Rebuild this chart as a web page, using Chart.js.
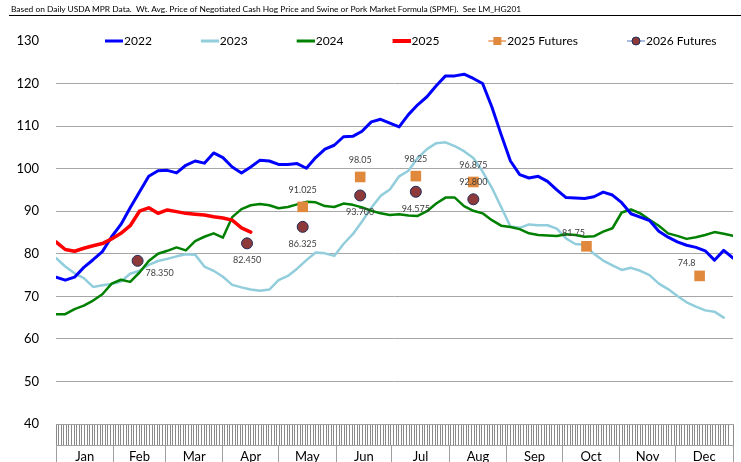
<!DOCTYPE html>
<html>
<head>
<meta charset="utf-8">
<script src="https://cdn.jsdelivr.net/npm/chart.js@4.4.1/dist/chart.umd.min.js"></script>
<style>
html, body { margin: 0; padding: 0; background: #fff; overflow: hidden; }
#wrap { position: relative; width: 741px; height: 462px; overflow: hidden; }
#note { position: absolute; left: 9px; right: 0; top: 3px; height: 12px; padding-left: 2px;
        border-bottom: 1px solid #000; font: 8.4px Lato, sans-serif; line-height: 12px;
        color: #000; white-space: nowrap; }
canvas { position: absolute; left: 0; top: 0; }
</style>
</head>
<body>
<div id="wrap">
  <canvas id="hogs" width="741" height="480"></canvas>
  <div id="note">Based on Daily USDA MPR Data.&nbsp; Wt. Avg. Price of Negotiated Cash Hog Price and Swine or Pork Market Formula (SPMF).&nbsp; See LM_HG201</div>
</div>
<script>
// day of year (0 = Jan 1), every 5 days
var days = [0,5,10,15,20,25,30,35,40,45,50,55,60,65,70,75,80,85,90,95,100,105,110,115,120,125,130,135,140,145,
  150,155,160,165,170,175,180,185,190,195,200,205,210,215,220,225,230,235,240,245,250,255,260,265,270,275,280,285,
  290,295,300,305,310,315,320,325,330,335,340,345,350,355,360,365]

var y2022 = [74.5,73.8,74.5,76.8,78.6,80.5,84.0,86.9,90.8,94.5,98.2,99.5,99.6,99.0,100.8,101.8,101.3,103.7,102.6,100.4,
  99.0,100.4,102.0,101.8,101.0,101.0,101.2,100.1,102.6,104.6,105.5,107.5,107.6,108.8,111.0,111.6,110.7,109.8,112.7,115.0,
  116.9,119.5,121.8,121.8,122.2,121.2,120.0,114.5,108.0,101.8,98.6,97.8,98.2,97.0,95.0,93.2,93.1,93.0,93.4,94.5,
  93.8,92.0,89.4,88.6,87.8,85.3,83.9,82.8,82.0,81.5,80.7,78.5,80.8,79.0]
var y2023 = [79.0,77.0,75.4,74.3,72.2,72.6,72.9,73.5,75.3,76.0,77.4,78.3,78.8,79.4,79.9,79.8,77.0,76.0,74.6,72.7,
  72.1,71.6,71.3,71.6,73.8,74.8,76.5,78.5,80.3,80.1,79.5,82.3,84.6,87.6,90.8,93.6,95.1,98.2,99.5,102.5,
  104.6,106.0,106.2,105.3,104.1,102.5,99.3,95.5,91.0,86.4,86.1,86.9,86.7,86.7,85.9,83.6,82.3,82.1,80.0,78.4,
  77.3,76.2,76.7,76.0,75.0,73.0,71.7,70.1,68.6,67.6,66.7,66.4,65.0]
var y2024 = [65.8,65.8,67.0,67.8,69.0,70.5,73.0,73.9,73.4,75.6,78.3,80.0,80.7,81.5,80.8,83.0,84.0,84.8,83.8,88.6,
  90.5,91.4,91.7,91.4,90.7,91.0,91.6,92.2,92.1,91.2,91.0,91.8,91.5,90.9,90.1,89.5,89.1,89.3,89.0,88.9,
  90.0,91.8,93.2,93.2,91.2,90.1,89.5,87.9,86.6,86.3,85.8,84.8,84.4,84.3,84.2,84.6,84.4,84.0,84.1,85.2,
  86.0,89.7,90.4,89.5,88.0,86.6,84.8,84.2,83.5,83.9,84.4,85.1,84.7,84.2]
var y2025 = [82.8,81.0,80.6,81.3,81.9,82.4,83.5,84.8,86.6,90.0,90.8,89.5,90.3,89.9,89.5,89.3,89.1,88.7,88.4,87.9,
  86.1,85.1]

// futures settle at mid-month contract expiries
var fut25Days = [133,164,194,225,286,347]
var fut25Vals = [91.025,98.05,98.25,96.875,81.75,74.8]
var fut26Days = [44,103,133,164,194,225]
var fut26Vals = [78.350,82.450,86.325,93.700,94.575,92.800]

var monthNames = ['Jan','Feb','Mar','Apr','May','Jun','Jul','Aug','Sep','Oct','Nov','Dec']
var monthStarts = [0,31,59,90,120,151,181,212,243,273,304,334,365]

function pts(xs, ys) {
  return ys.map((v, i) => ({x: xs[i], y: v}))
}

// boundary, middle, boundary, middle ... for the month row
var monthTicks = []
monthStarts.forEach((d, i) => {
  monthTicks.push(d)
  if (i < 12) monthTicks.push((d + monthStarts[i + 1]) / 2)
})

function icon(draw) {
  var c = document.createElement('canvas')
  c.width = 66; c.height = 14
  draw(c.getContext('2d'))
  return c
}
function lineIcon(color, w) {
  return icon(g => {
    g.strokeStyle = color; g.lineWidth = w
    g.beginPath(); g.moveTo(48, 7); g.lineTo(66, 7); g.stroke()
  })
}
var icons = [
  lineIcon('#0000ff', 3),
  lineIcon('#92cddc', 3),
  lineIcon('#008000', 3),
  lineIcon('#ff0000', 4),
  icon(g => {
    g.strokeStyle = '#efb182'; g.lineWidth = 2
    g.beginPath(); g.moveTo(48, 7); g.lineTo(66, 7); g.stroke()
    g.fillStyle = '#e0883c'; g.fillRect(53, 3, 8, 8)
  }),
  icon(g => {
    g.strokeStyle = '#a9bde0'; g.lineWidth = 2
    g.beginPath(); g.moveTo(48, 7); g.lineTo(66, 7); g.stroke()
    g.fillStyle = '#8e3a3a'; g.strokeStyle = '#1f2d5a'; g.lineWidth = 1
    g.beginPath(); g.arc(57, 7, 4, 0, Math.PI * 2); g.fill(); g.stroke()
  })
]

// where each futures label sits relative to its marker
var labelOffsets = { above: [0, -17], below: [0, 17], belowRight: [22, 12], aboveLeft: [-13, -13] }
var labelInfo = {
  '2025 Futures': { at: ['above','above','above','above','aboveLeft','aboveLeft'], fmt: v => String(v) },
  '2026 Futures': { at: ['belowRight','below','below','below','below','above'], fmt: v => v.toFixed(3) }
}

var pointLabels = {
  id: 'pointLabels',
  afterDatasetsDraw(chart) {
    var ctx = chart.ctx
    chart.data.datasets.forEach((ds, di) => {
      var info = labelInfo[ds.label]
      if (!info) return
      chart.getDatasetMeta(di).data.forEach((el, i) => {
        var off = labelOffsets[info.at[i]]
        ctx.save()
        ctx.font = '9px Lato'
        ctx.fillStyle = '#404040'
        ctx.textAlign = 'center'
        ctx.textBaseline = 'middle'
        ctx.fillText(info.fmt(ds.data[i].y), el.x + off[0], el.y + off[1])
        ctx.restore()
      })
    })
  }
}

// the legend row sits on the 130 line, inside the plot width
var liftLegend = {
  id: 'liftLegend',
  afterLayout(chart) {
    var lg = chart.legend, area = chart.chartArea
    var h = lg.bottom - lg.top
    lg.top = 29; lg.bottom = 29 + h
    lg.left = area.left; lg.right = area.right
  }
}

Chart.defaults.font.family = 'Lato'

var lineStyle = { pointRadius: 0, pointHoverRadius: 0, tension: 0, borderJoinStyle: 'round', borderCapStyle: 'round' }

new Chart('hogs', {
  type: 'line',
  data: {
    datasets: [
      Object.assign({ label: '2022', data: pts(days, y2022), borderColor: '#0000ff', borderWidth: 3, order: 3 }, lineStyle),
      Object.assign({ label: '2023', data: pts(days, y2023), borderColor: '#92cddc', borderWidth: 2.5, order: 5 }, lineStyle),
      Object.assign({ label: '2024', data: pts(days, y2024), borderColor: '#008000', borderWidth: 2.5, order: 4 }, lineStyle),
      Object.assign({ label: '2025', data: pts(days, y2025), borderColor: '#ff0000', borderWidth: 3.5, order: 2 }, lineStyle),
      { label: '2025 Futures', data: pts(fut25Days, fut25Vals), showLine: false, pointStyle: 'rect',
        pointRadius: 7.5, backgroundColor: '#e0883c', borderColor: '#e0883c', borderWidth: 0, order: 1 },
      { label: '2026 Futures', data: pts(fut26Days, fut26Vals), showLine: false, pointStyle: 'circle',
        pointRadius: 5.5, backgroundColor: '#8e3a3a', borderColor: '#1f2d5a', borderWidth: 1, order: 0 }
    ]
  },
  options: {
    responsive: false,
    animation: false,
    layout: { padding: { left: 16, right: 8, top: 13, bottom: 5 } },
    plugins: {
      tooltip: { enabled: false },
      legend: {
        position: 'top',
        align: 'start',
        labels: {
          usePointStyle: true,
          pointStyleWidth: 56,
          padding: 6,
          color: '#000',
          font: { size: 12 },
          generateLabels: chart => chart.data.datasets.map((ds, i) => ({
            text: ds.label, pointStyle: icons[i], datasetIndex: i,
            fillStyle: 'transparent', strokeStyle: 'transparent', lineWidth: 0, hidden: false
          }))
        }
      }
    },
    scales: {
      x: {
        type: 'linear', min: 0, max: 365, position: 'bottom',
        ticks: { display: false, stepSize: 1.4, autoSkip: false },
        grid: { drawOnChartArea: false, tickLength: 21, color: '#8a8a8a', lineWidth: 1 },
        border: { color: '#a0a0a0' },
        afterFit: s => { s.height = 21 }
      },
      months: {
        type: 'linear', min: 0, max: 365, position: 'bottom', weight: 1,
        afterBuildTicks: s => { s.ticks = monthTicks.map(v => ({ value: v })) },
        ticks: {
          autoSkip: false, maxRotation: 0, padding: -21, color: '#000', font: { size: 13 },
          callback: (v, i) => i % 2 ? monthNames[(i - 1) / 2] : ''
        },
        grid: { drawOnChartArea: false, tickLength: 25, color: c => c.index % 2 ? 'rgba(0,0,0,0)' : '#a0a0a0' },
        border: { color: '#a0a0a0' },
        afterFit: s => { s.height = 30 }
      },
      y: {
        min: 40, max: 130,
        ticks: { stepSize: 10, padding: 17, color: '#000', font: { size: 13 } },
        grid: { drawTicks: false, color: c => c.tick.value === 130 ? 'rgba(0,0,0,0)' : '#a6a6a6' },
        border: { display: false },
        afterFit: s => { s.width = 40 }
      }
    }
  },
  plugins: [pointLabels, liftLegend]
})
</script>
</body>
</html>
